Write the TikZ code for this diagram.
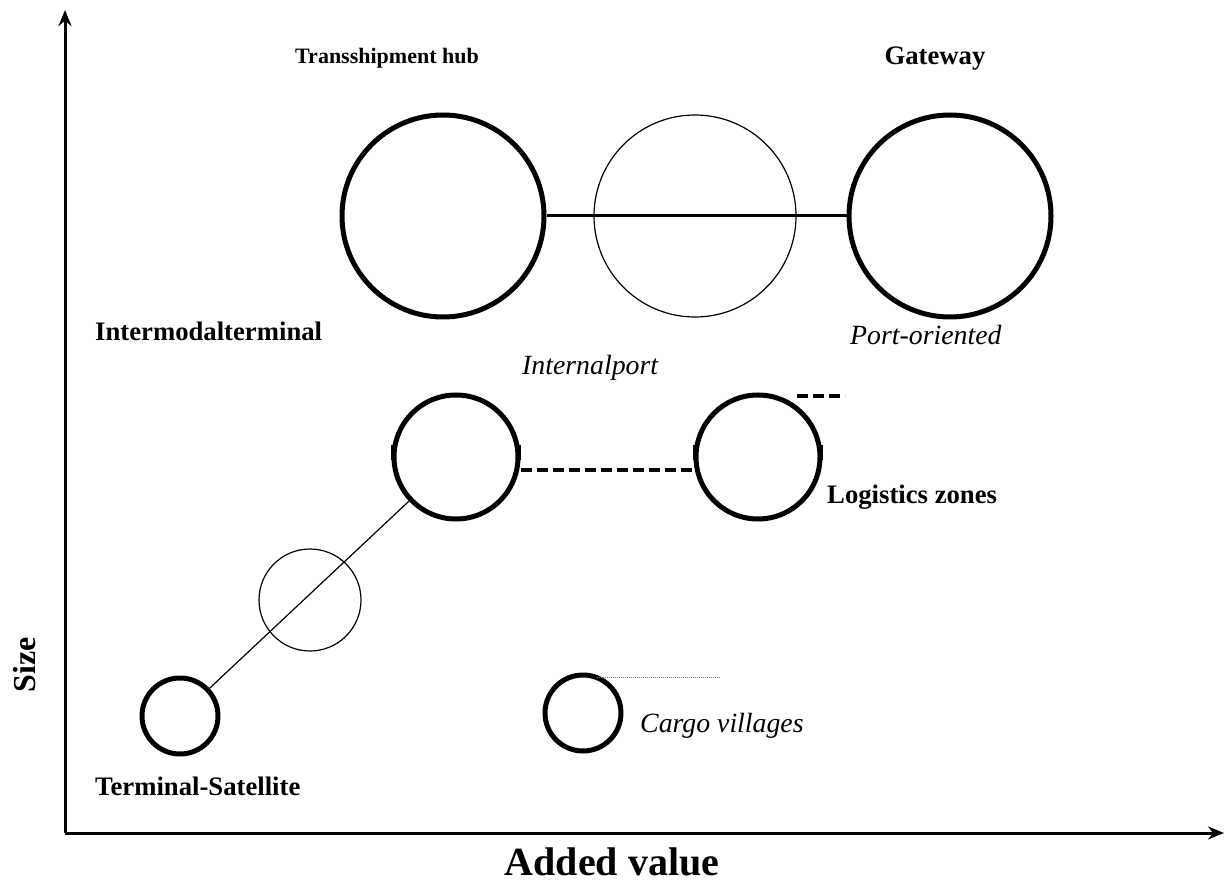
\documentclass[tikz,border=0pt]{standalone}
\usepackage{fontspec}
\setmainfont{Liberation Serif}
\usetikzlibrary{arrows.meta}
\begin{document}
\begin{tikzpicture}[x=1pt,y=-1pt,
  thickcirc/.style={circle,draw,line width=5pt,inner sep=0pt},
  thincirc/.style={circle,draw,line width=1.2pt,inner sep=0pt},
  axis/.style={line width=3pt,-{Stealth[length=16pt,width=13pt]}},
  blab/.style={inner sep=0pt,font=\fontsize{26.7}{30}\selectfont\bfseries},
  ilab/.style={inner sep=0pt,font=\fontsize{27.8}{32}\selectfont\itshape},
  biglab/.style={inner sep=0pt,font=\fontsize{40}{44}\selectfont\bfseries},
  dashline/.style={line width=3.5pt,dash pattern=on 11pt off 5pt},
  tick/.style={line width=3pt},
]
\useasboundingbox (0,0) rectangle (1226,890);
% axes
\coordinate (O) at (65,833);
\coordinate (ytip) at (65,10);
\coordinate (xtip) at (1224,833);
\draw[axis] (O) -- (ytip);
\draw[axis] (O) -- (xtip);
% big circles
\node[thickcirc,minimum size=202pt] (th) at (443,216) {};
\node[thincirc,minimum size=202pt] (mid) at (695,216) {};
\node[thickcirc,minimum size=202pt] (gw) at (950,216) {};
\draw[line width=3pt] (th) -- (gw);
% middle row
\node[thickcirc,minimum size=124pt] (ip) at (456,457) {};
\node[thickcirc,minimum size=124pt] (lz) at (758,457) {};
\draw[dashline] ([yshift=-13pt]ip.east) -- ([yshift=-13pt]lz.west);
\draw[tick] ([shift={(1pt,12pt)}]ip.west) -- ([shift={(1pt,-3pt)}]ip.west);
\draw[tick] ([shift={(-1pt,12pt)}]ip.east) -- ([shift={(-1pt,-3pt)}]ip.east);
\draw[tick] ([shift={(1pt,12pt)}]lz.west) -- ([shift={(1pt,-3pt)}]lz.west);
\draw[tick] ([shift={(-1pt,12pt)}]lz.east) -- ([shift={(-1pt,-3pt)}]lz.east);
\coordinate (poA) at (797,396);
\coordinate (poB) at (845,396);
\draw[dashline] (poA) -- (poB);
% lower
\node[thincirc,minimum size=102pt] (sm) at (310,600) {};
\node[thickcirc,minimum size=76pt] (ts) at (180,716) {};
\node[thickcirc,minimum size=76pt] (cv) at (583,713) {};
\draw[line width=1.2pt] (ts) -- (ip);
\coordinate (dA) at (597,677);
\coordinate (dB) at (720,677);
\draw[gray,line width=0.8pt,dash pattern=on 1pt off 1pt] (dA) -- (dB);
% labels
\node[blab,font=\fontsize{22}{26}\selectfont\bfseries,anchor=base] (lth) at (387,64) {Transshipment hub};
\node[blab,anchor=base] (lgw) at (935,65) {Gateway};
\node[blab,anchor=base west] (lit) at (95,341) {Intermodalterminal};
\node[ilab,anchor=base west] (lip) at (522,375) {Internalport};
\node[ilab,anchor=base west] (lpo) at (850,345) {Port-oriented};
\node[blab,anchor=base west] (llz) at (827,503) {Logistics zones};
\node[ilab,anchor=base west] (lcv) at (640,732) {Cargo villages};
\node[blab,anchor=base west] (lts) at (95,795) {Terminal-Satellite};
\node[biglab,anchor=base] (lav) at (612,875) {Added value};
\node[blab,font=\fontsize{32}{36}\selectfont\bfseries,rotate=90,anchor=base] (lsz) at (35,665) {Size};
\end{tikzpicture}
\end{document}
